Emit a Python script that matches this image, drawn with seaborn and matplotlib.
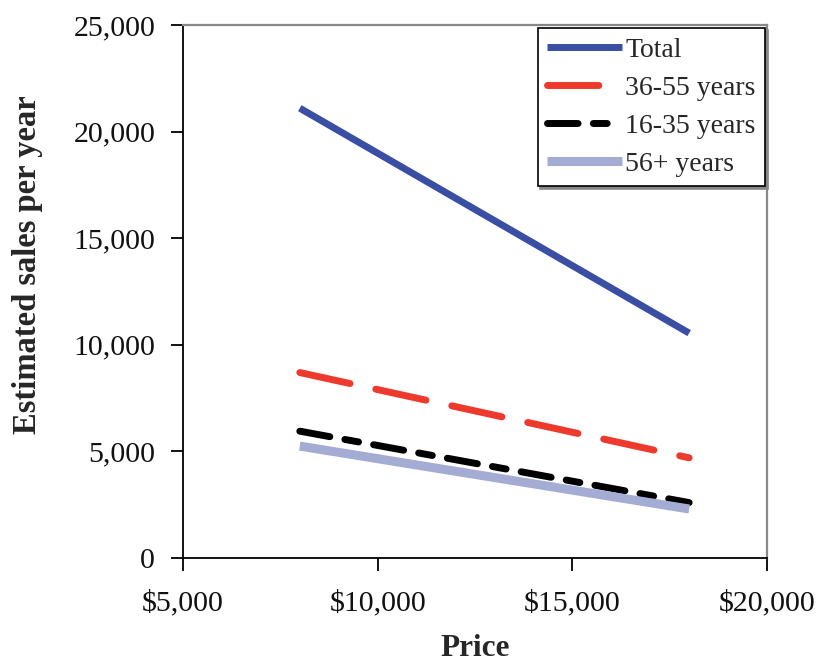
import pandas as pd
import matplotlib
matplotlib.use("Agg")
import matplotlib.pyplot as plt
import seaborn as sns
from matplotlib.ticker import FuncFormatter

# data
price = [8000, 18000]
total = [21100, 10550]
age_36_55 = [8700, 4700]
age_16_35 = [5950, 2600]
age_56_plus = [5250, 2300]

series = ["Total", "36-55 years", "16-35 years", "56+ years"]
values = [total, age_36_55, age_16_35, age_56_plus]

df = pd.concat(
    [pd.DataFrame({"Price": price, "Sales": v, "Group": s}) for s, v in zip(series, values)],
    ignore_index=True,
)

sns.set_theme(style="white")
plt.rcParams["font.family"] = ["Liberation Serif", "DejaVu Serif"]
plt.rcParams["lines.scale_dashes"] = False

fig = plt.figure(figsize=(8.18, 6.64), dpi=100)
ax = fig.add_axes([0.2237, 0.1596, 0.7140, 0.8027])

styles = {
    "Total": dict(color="#3a4fa3", lw=5, dashes=None),
    "36-55 years": dict(color="#ee3a2d", lw=5, dashes=(37, 19)),
    "16-35 years": dict(color="black", lw=5, dashes=(22, 11, 10, 11)),
    "56+ years": dict(color="#a4acd4", lw=6.5, dashes=None),
}

for s in series:
    st = styles[s]
    sns.lineplot(data=df[df["Group"] == s], x="Price", y="Sales", ax=ax,
                 color=st["color"], linewidth=st["lw"], label=s,
                 solid_capstyle="butt", dash_capstyle="round")
    line = ax.lines[-1]
    if st["dashes"] is not None:
        line.set_dashes(st["dashes"])

ax.set_xlim(5000, 20000)
ax.set_ylim(0, 25000)
ax.set_xticks([5000, 10000, 15000, 20000])
ax.set_yticks([0, 5000, 10000, 15000, 20000, 25000])
ax.xaxis.set_major_formatter(FuncFormatter(lambda v, p: f"${v:,.0f}"))
ax.yaxis.set_major_formatter(FuncFormatter(lambda v, p: f"{v:,.0f}"))
ax.tick_params(axis="both", direction="out", length=9, width=1.3, colors="black",
               labelsize=21.5, labelcolor="#111111")
ax.tick_params(axis="x", pad=14)
ax.tick_params(axis="y", pad=11)
ax.tick_params(left=True, bottom=True)

for side in ["left", "bottom"]:
    ax.spines[side].set_color("black")
    ax.spines[side].set_linewidth(1.3)
for side in ["top", "right"]:
    ax.spines[side].set_color("#888888")
    ax.spines[side].set_linewidth(1.6)

ax.set_xlabel("Price", fontsize=22.5, fontweight="bold")
ax.set_ylabel("Estimated sales per year", fontsize=23.5, fontweight="bold")
ax.xaxis.set_label_coords(0.5, -0.142)
ax.yaxis.set_label_coords(-0.239, 0.55)

leg = ax.legend(loc="upper right", bbox_to_anchor=(0.997, 0.995), fontsize=20,
                frameon=True, fancybox=False, edgecolor="black",
                shadow={"color": "#888888", "alpha": 1},
                handlelength=2.7, handletextpad=0.1, labelspacing=0.45,
                borderpad=0.35, borderaxespad=0)
leg.get_frame().set_linewidth(1.2)

fig.savefig("out.png", dpi=100)
